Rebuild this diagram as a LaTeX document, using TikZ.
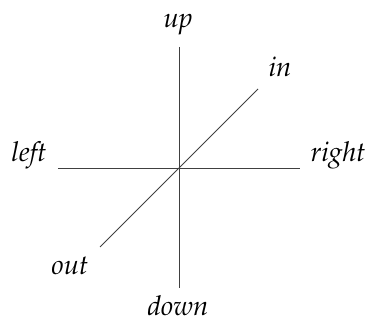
\documentclass[tikz,border=0pt]{standalone}
\usepackage[T1]{fontenc}
\usepackage{mathpazo}
\usepackage{tikz}

\begin{document}
\begin{tikzpicture}[
    axis/.style={semithick, color=black!75},
    lbl/.style={font=\fontsize{19.5}{23}\selectfont\itshape, inner sep=0pt, anchor=base}
]
    \useasboundingbox (-4.475,-3.8) rectangle (4.7,4.2);

    % Axis ends
    \coordinate (o)  at (0,0);
    \coordinate (u)  at (0,3.025);
    \coordinate (d)  at (0,-3.0);
    \coordinate (l)  at (-3.025,0);
    \coordinate (r)  at (3.025,0);
    \coordinate (i)  at (1.975,1.975);
    \coordinate (ou) at (-1.975,-1.975);

    % Labels
    \node[lbl] (up)    at (-0.025,3.5)   {up};
    \node[lbl] (down)  at (-0.025,-3.7)  {down};
    \node[lbl] (left)  at (-3.75,0.15)   {left};
    \node[lbl] (right) at (3.975,0.15)   {right};
    \node[lbl] (in)    at (2.525,2.275)  {in};
    \node[lbl] (out)   at (-2.725,-2.675) {out};

    % Axes
    \draw[axis] (u) -- (d);
    \draw[axis] (l) -- (r);
    \draw[axis] (ou) -- (i);
\end{tikzpicture}
\end{document}
